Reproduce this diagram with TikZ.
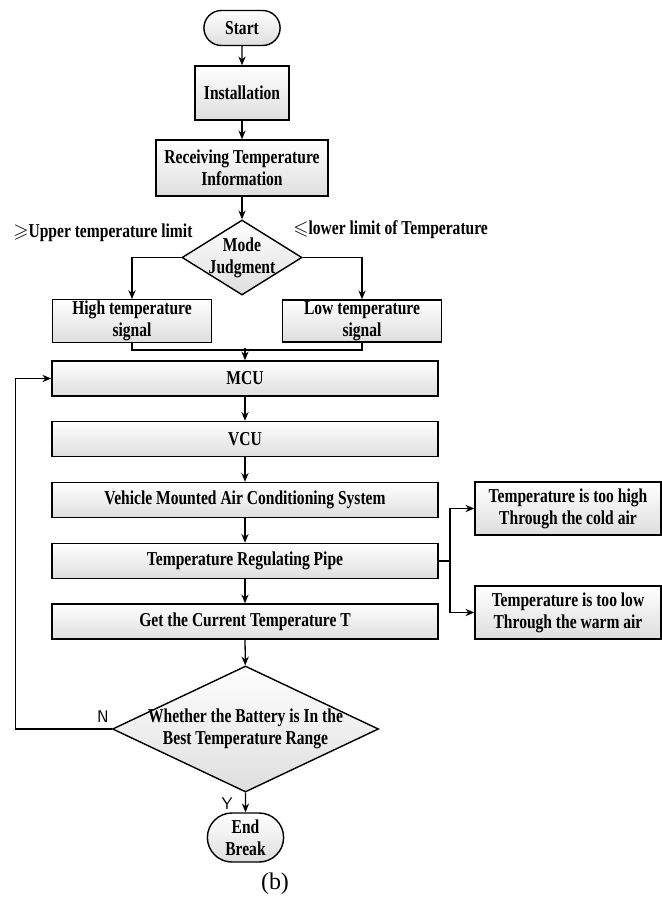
\documentclass[tikz,border=0pt]{standalone}
\usepackage{amssymb}
\usepackage{fontspec}
\setmainfont{Liberation Serif}[FakeStretch=0.79]
\newfontfamily\capfont{Liberation Serif}
\usetikzlibrary{arrows.meta}
\usetikzlibrary{shapes.geometric,shapes.misc}
\usetikzlibrary{calc,positioning}

\begin{document}
\begin{tikzpicture}[>={Stealth[length=2.2mm,width=1.8mm]}, x=0.025cm, y=-0.025cm,
 box/.style={draw, line width=1pt, top color=white, bottom color=black!13,
  font=\fontsize{14}{15.5}\selectfont\bfseries, align=center, inner sep=1pt,
  minimum width=#1, minimum height=0.875cm},
 box/.default=9.65cm,
 terminal/.style={box=1.975cm, rounded rectangle},
 decision/.style={diamond, draw, line width=1pt, inner sep=0pt,
  top color=white, bottom color=black!13},
 dtext/.style={font=\fontsize{14}{15.5}\selectfont\bfseries, align=center},
 flow/.style={->, line width=0.9pt},
 link/.style={line width=0.9pt},
 cond/.style={font=\fontsize{14}{15.5}\selectfont\bfseries, anchor=west, inner sep=0pt},
 yn/.style={font=\fontsize{12}{12}\selectfont\sffamily, inner sep=0pt}]
    \useasboundingbox (0,0) rectangle (662,902);
    % Top of the flow: start, installation, reading
    \node[terminal] (start) at (242,28) {Start};
    \node[box=2.35cm, minimum height=1.35cm] (inst) at (242,93) {Installation};
    \node[box=4.3cm, minimum height=1.4cm] (recv) at (242,168)
        {Receiving Temperature\\Information};
    \node[decision, minimum width=3cm, minimum height=1.875cm] (mode) at (242,257.5) {};
    \node[dtext] (modetxt) at (mode) {Mode\\Judgment};
    \node[cond] (uplim) at (13,233) {$\geqslant$Upper temperature limit};
    \node[cond] (lowlim) at (293,230) {$\leqslant$lower limit of Temperature};
    % Two signal boxes
    \node[box=3.975cm, minimum height=1.05cm] (high) at (132,321) {High temperature\\signal};
    \node[box=3.975cm, minimum height=1.05cm] (low) at (362,321) {Low temperature\\signal};
    % Main column
    \node[box] (mcu) at (245,378.5) {MCU};
    \node[box] (vcu) at (245,439) {VCU};
    \node[box] (vmac) at (245,500) {Vehicle Mounted Air Conditioning System};
    \node[box] (pipe) at (245,561) {Temperature Regulating Pipe};
    \node[box] (gett) at (245,621.5) {Get the Current Temperature T};
    \node[decision, minimum width=6.65cm, minimum height=3.15cm] (best) at (245.5,729) {};
    \node[dtext] (besttxt) at (245.5,729) {Whether the Battery is In the\\Best Temperature Range};
    \node[terminal, minimum height=1.225cm] (endb) at (245.5,837.5) {End\\Break};
    % Side boxes
    \node[box=4.65cm, minimum height=1.325cm] (hot) at (568,508.5)
        {Temperature is too high\\Through the cold air};
    \node[box=4.65cm, minimum height=1.325cm] (cold) at (568,612.5)
        {Temperature is too low\\Through the warm air};
    % Connectors
    \draw[flow] (start) -- (inst);
    \draw[flow] (inst) -- (recv);
    \draw[flow] (recv) -- (mode);
    \draw[flow] (mode.west) -| (high.north);
    \draw[flow] (mode.east) -| (low.north);
    \coordinate (merge) at (245,348);
    \draw[link] (high.south) -- ++(0,7) -| (low.south);
    \draw[flow] (merge) -- (mcu);
    \draw[flow] (mcu) -- (vcu);
    \draw[flow] (vcu) -- (vmac);
    \draw[flow] (vmac) -- (pipe);
    \draw[flow] (pipe) -- (gett);
    \draw[flow] (gett) -- (best);
    \draw[flow] (best) -- (endb);
    \coordinate (split) at (450,561);
    \draw[link] (pipe.east) -- (split);
    \draw[flow] (split) |- (hot.west);
    \draw[flow] (split) |- (cold.west);
    \draw[flow] (best.west) -- ++(-96,0) |- (mcu.west);
    \node[yn] (nlab) at (103,717) {N};
    \node[yn] (ylab) at (227,804) {Y};
    \node[font=\capfont\fontsize{17}{17}\selectfont] (cap) at (275,884) {(b)};
\end{tikzpicture}
\end{document}
